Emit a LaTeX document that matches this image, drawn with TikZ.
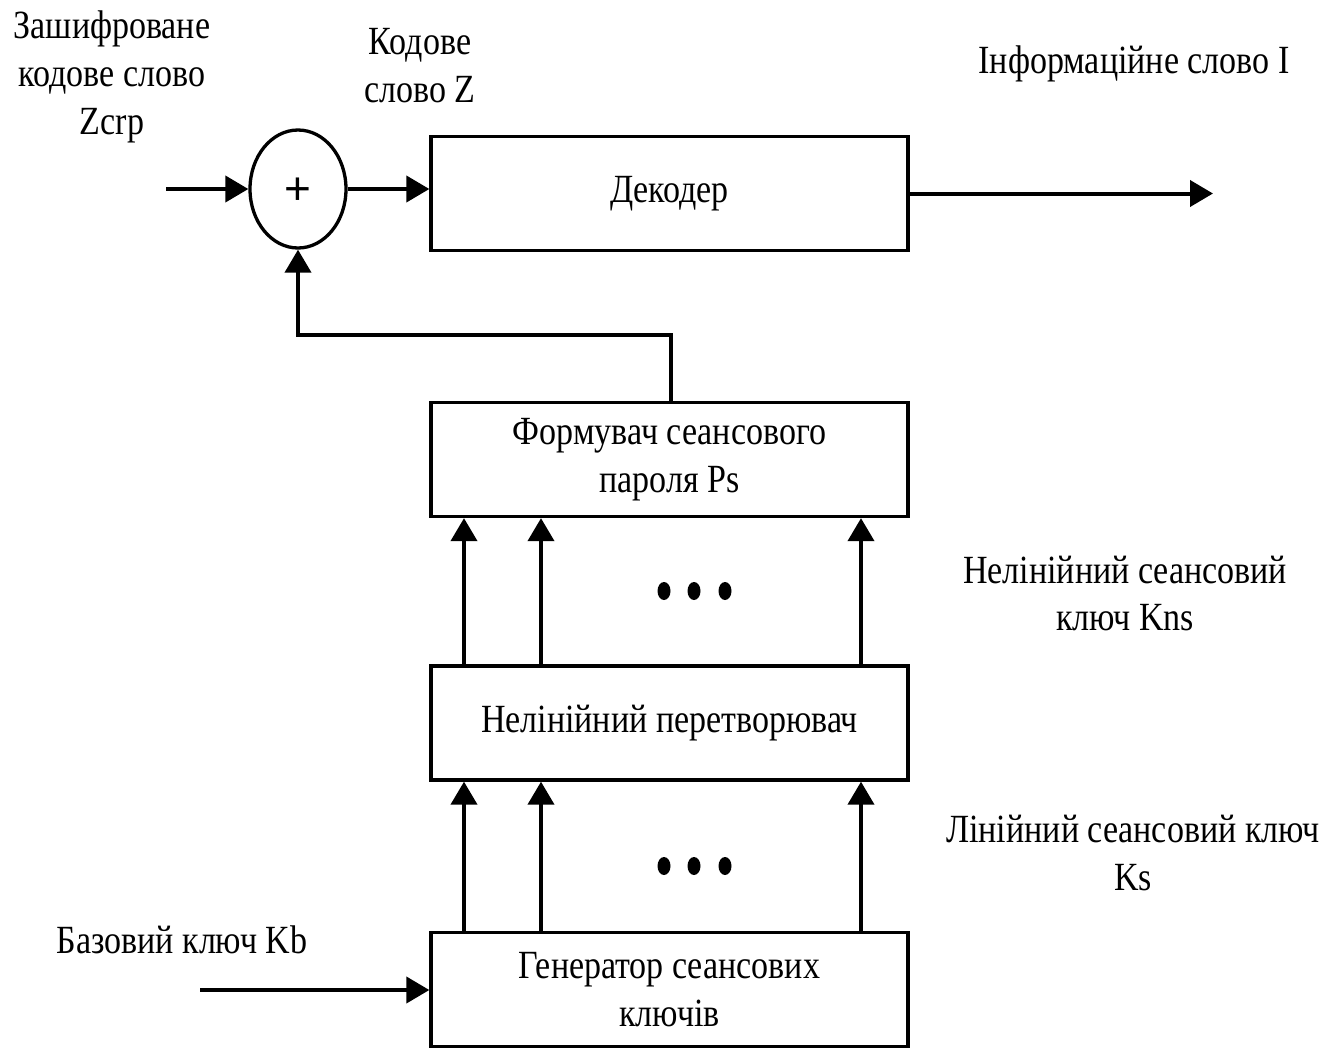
\documentclass[tikz,border=0pt]{standalone}
\usepackage{fontspec}
\setmainfont{Liberation Serif}[FakeStretch=0.85]
\newfontfamily\plusfont{Liberation Sans}
\usetikzlibrary{arrows.meta,shapes.geometric}
\tikzset{
  blk/.style={draw,line width=3.3pt,minimum width=477pt,minimum height=114pt,inner sep=0pt,align=center,font=\fontsize{40}{48}\selectfont},
  lbl/.style={align=center,inner sep=0pt,font=\fontsize{40}{48}\selectfont},
  arr/.style={line width=4pt,-{Triangle[length=23pt,width=26pt]}},
  dotm/.style={fill=black,ellipse,minimum width=13pt,minimum height=18pt,inner sep=0pt}
}
\begin{document}
\begin{tikzpicture}[x=1pt,y=-1pt]
\useasboundingbox (0,0) rectangle (1328,1050);
% blocks
\node[blk] (dec) at (669.5,193.5) {Декодер};
\node[blk] (form) at (669.5,459.5) {Формувач сеансового\\пароля Ps};
\node[blk] (nl) at (669.5,723) {Нелінійний перетворювач};
\node[blk] (gen) at (669.5,989.5) {Генератор сеансових\\ключів};
\node[draw,ellipse,line width=3.3pt,minimum width=96pt,minimum height=118pt,inner sep=0pt] (sum) at (298,189) {};
\node[inner sep=0pt,font=\plusfont\fontsize{46}{46}\selectfont] (plus) at (298,191) {+};
% labels
\node[lbl] (l1) at (112,77) {Зашифроване\\кодове слово\\Zcrp};
\node[lbl] (l2) at (420,66) {Кодове\\слово Z};
\node[lbl,anchor=base] (l3) at (1134,73) {Інформаційне слово I};
\node[lbl,anchor=base] (l4a) at (1125,583) {Нелінійний сеансовий};
\node[lbl,anchor=base] (l4b) at (1125,630) {ключ Kns};
\node[lbl,anchor=base] (l5a) at (1133,842) {Лінійний сеансовий ключ};
\node[lbl,anchor=base] (l5b) at (1133,890) {Ks};
\node[lbl,anchor=base] (l6) at (182,953) {Базовий ключ Kb};
% free ends
\coordinate (in) at (166,189);
\coordinate (out) at (1213,193.5);
\coordinate (kb) at (200,990);
% connectors
\draw[arr] (in) -- (sum.west);
\draw[arr] (sum.east) -- (sum.east -| dec.west);
\draw[arr] (dec.east) -- (out);
\draw[arr] ([xshift=1.5pt]form.north) -- ++(0,-66) -| (sum.south);
\draw[arr] (kb) -- (kb -| gen.west);
\foreach \dx in {-205.5,-128.5,191.5}{
  \draw[arr] ([xshift=\dx]nl.north) -- ([xshift=\dx]form.south);
  \draw[arr] ([xshift=\dx]gen.north) -- ([xshift=\dx]nl.south);
}
% dots
\foreach \xx in {664,694,725}{
  \node[dotm] at (\xx,591) {};
  \node[dotm] at (\xx,866) {};
}
\end{tikzpicture}
\end{document}
